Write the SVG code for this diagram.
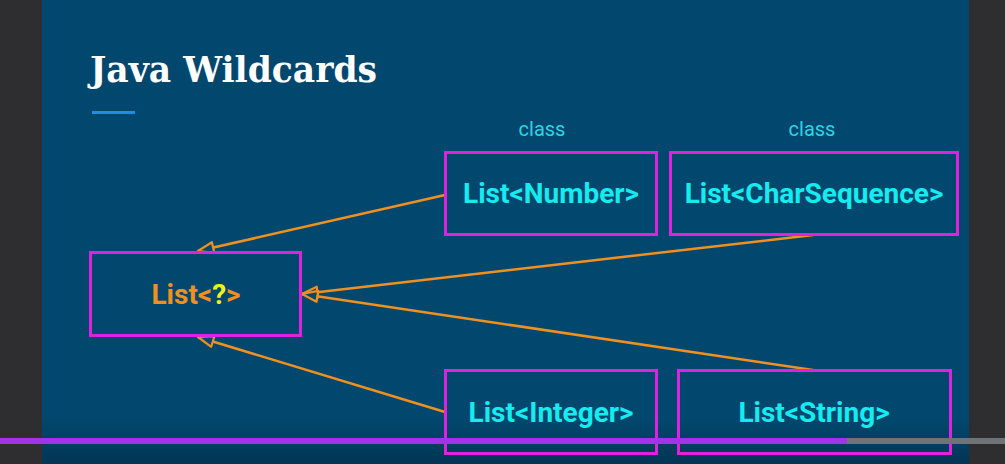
<svg xmlns="http://www.w3.org/2000/svg" width="1005" height="464" viewBox="0 0 1005 464">
  <style>
    .box { fill: none; stroke: #df22df; stroke-width: 3; }
    .lbl { font-family: Roboto, "Liberation Sans", sans-serif; font-weight: bold; font-size: 28px; fill: #14ecf0; text-anchor: middle; }
    .cls { font-family: Roboto, "Liberation Sans", sans-serif; font-size: 20px; fill: #2fd3e3; text-anchor: middle; }
    .edge { fill: none; stroke: #f0901e; stroke-width: 2.5; marker-end: url(#arr); }
  </style>
  <defs>
    <marker id="arr" viewBox="0 0 18 14" refX="17" refY="7" markerWidth="18" markerHeight="14" markerUnits="userSpaceOnUse" orient="auto">
      <path d="M1.5,1.5 L17,7 L1.5,12.5 Z" fill="#02476e" stroke="#f0901e" stroke-width="2.2" stroke-linejoin="round"/>
    </marker>
    <linearGradient id="shade" x1="0" y1="0" x2="0" y2="1">
      <stop offset="0" stop-color="#000" stop-opacity="0"/>
      <stop offset="1" stop-color="#000" stop-opacity="0.25"/>
    </linearGradient>
  </defs>
  <rect x="0" y="0" width="1005" height="464" fill="#2e2e30"/>
  <rect x="42" y="0" width="927" height="464" fill="#02476e"/>
  <rect x="42" y="420" width="927" height="44" fill="url(#shade)"/>

  <text x="90" y="82" font-family="'DejaVu Serif', 'Liberation Serif', serif" font-weight="bold" font-size="35" fill="#ffffff" textLength="287" lengthAdjust="spacingAndGlyphs">Java Wildcards</text>
  <rect x="92" y="111" width="43" height="3" fill="#1e8fe0"/>

  <g id="connectors">
    <line class="edge" x1="445" y1="195" x2="198" y2="251"/>
    <line class="edge" x1="813" y1="235" x2="302" y2="294"/>
    <line class="edge" x1="813" y1="370" x2="302" y2="294"/>
    <line class="edge" x1="445" y1="412" x2="198" y2="337"/>
  </g>

  <g id="wild">
    <rect class="box" x="90.5" y="252.5" width="210" height="83"/>
    <text x="196" y="304" font-family="Roboto, 'Liberation Sans', sans-serif" font-weight="bold" font-size="28" fill="#f0901e" text-anchor="middle">List&lt;<tspan fill="#f0f020">?</tspan>&gt;</text>
  </g>
  <g id="number">
    <text class="cls" x="542" y="136">class</text>
    <rect class="box" x="445.5" y="152.5" width="211" height="82"/>
    <text class="lbl" x="551" y="203">List&lt;Number&gt;</text>
  </g>
  <g id="charseq">
    <text class="cls" x="812" y="136">class</text>
    <rect class="box" x="670.5" y="152.5" width="287" height="82"/>
    <text class="lbl" x="814" y="203">List&lt;CharSequence&gt;</text>
  </g>
  <g id="integer">
    <rect class="box" x="445.5" y="370.5" width="211" height="83"/>
    <text class="lbl" x="551" y="422">List&lt;Integer&gt;</text>
  </g>
  <g id="string">
    <rect class="box" x="678.5" y="370.5" width="272" height="83"/>
    <text class="lbl" x="814" y="422">List&lt;String&gt;</text>
  </g>

  <rect x="0" y="438" width="847" height="6" fill="#a233e8"/>
  <rect x="847" y="438" width="158" height="6" fill="#6f7375"/>
</svg>
